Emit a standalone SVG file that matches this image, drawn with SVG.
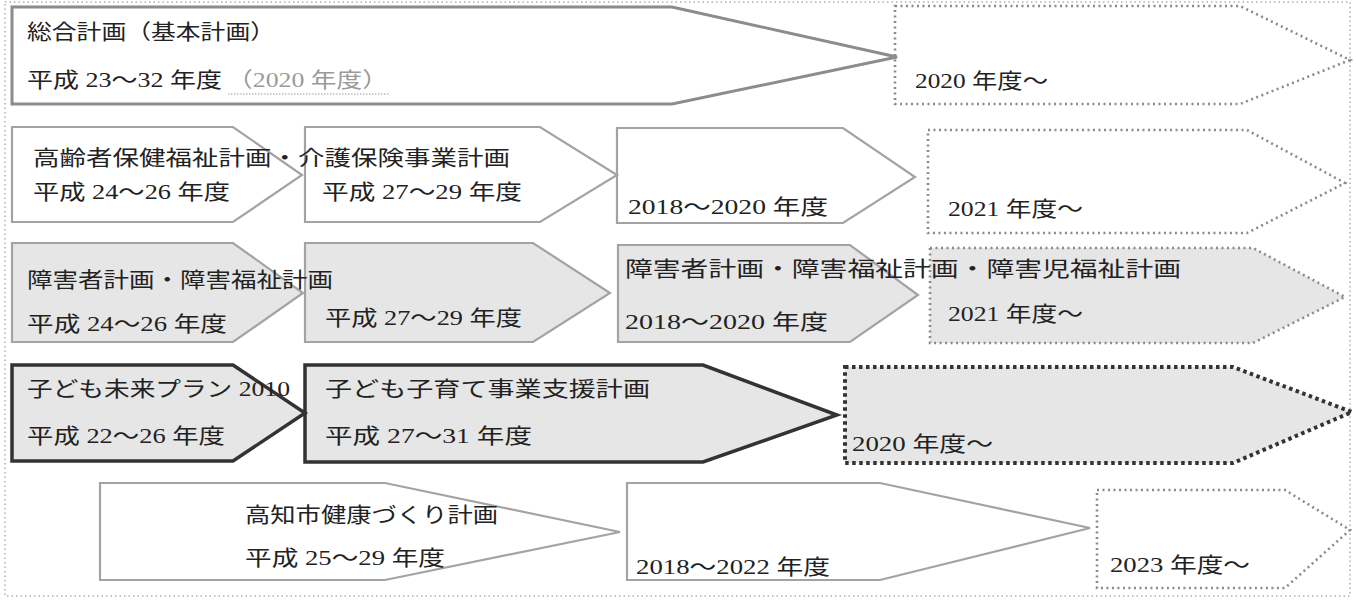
<svg xmlns="http://www.w3.org/2000/svg" width="1356" height="604" viewBox="0 0 1356 604">
<style>
.t{font-family:"Liberation Serif","Noto Sans CJK JP",serif;font-size:21px;fill:#222;}
.lt{fill:#fff;stroke:#a3a3a3;stroke-width:2.2;stroke-linejoin:miter;}
.gy{fill:#e6e6e6;stroke:#a3a3a3;stroke-width:2.2;}
.big{fill:#fff;stroke:#8c8c8c;stroke-width:3;}
.dot{fill:#fff;stroke:#8a8a8a;stroke-width:2.6;stroke-dasharray:2 3.5;}
.dotg{fill:#e6e6e6;stroke:#8a8a8a;stroke-width:2.6;stroke-dasharray:2 3.5;}
.dk{fill:#e6e6e6;stroke:#333;stroke-width:3.5;}
.dkdot{fill:#e6e6e6;stroke:#333;stroke-width:4;stroke-dasharray:3.5 3.5;}
.frame{fill:none;stroke:#b0b0b0;stroke-width:1.5;stroke-dasharray:1.5 3;}
</style>
<rect class="frame" x="5" y="2" width="1345" height="594"/>

<g id="sogo-next">
<polygon class="dot" points="895,6 1240,6 1350,60 1240,104 895,104"/>
<text class="t" x="915" y="88" textLength="133" lengthAdjust="spacingAndGlyphs">2020 年度～</text>
</g>
<g id="sogo">
<polygon class="big" points="12,7 672,7 897,57 672,104 12,104"/>
<text class="t" x="27" y="39" textLength="248" lengthAdjust="spacingAndGlyphs">総合計画（基本計画）</text>
<text class="t" x="27" y="87" textLength="195" lengthAdjust="spacingAndGlyphs">平成 23～32 年度</text>
<text class="t" x="227" y="87" textLength="161" lengthAdjust="spacingAndGlyphs" style="fill:#9a9a9a">（2020 年度）</text>
<line x1="228" y1="94" x2="390" y2="94" stroke="#9a9a9a" stroke-width="1.2" stroke-dasharray="1.5 1.5"/>
</g>

<g id="kourei-4">
<polygon class="dot" points="928,130 1247,130 1345,183 1247,233 928,233"/>
<text class="t" x="948" y="216" textLength="135" lengthAdjust="spacingAndGlyphs">2021 年度～</text>
</g>
<g id="kourei-3">
<polygon class="lt" points="617,128 843,128 915,177 843,223 617,223"/>
<text class="t" x="628" y="214" textLength="200" lengthAdjust="spacingAndGlyphs">2018～2020 年度</text>
</g>
<g id="kourei-2">
<polygon class="lt" points="305,127 540,127 617,175 540,222 305,222"/>
<text class="t" x="322" y="199" textLength="200" lengthAdjust="spacingAndGlyphs">平成 27～29 年度</text>
</g>
<g id="kourei-1">
<polygon class="lt" points="12,127 233,127 302,175 233,222 12,222"/>
<text class="t" x="33" y="165" textLength="477" lengthAdjust="spacingAndGlyphs">高齢者保健福祉計画・介護保険事業計画</text>
<text class="t" x="33" y="199" textLength="197" lengthAdjust="spacingAndGlyphs">平成 24～26 年度</text>
</g>

<g id="shougai-4">
<polygon class="dotg" points="930,248 1253,248 1345,297 1253,343 930,343"/>
<text class="t" x="948" y="321" textLength="135" lengthAdjust="spacingAndGlyphs">2021 年度～</text>
</g>
<g id="shougai-3">
<polygon class="gy" points="618,245 850,245 918,295 850,342 618,342"/>
<text class="t" x="625" y="276" textLength="556" lengthAdjust="spacingAndGlyphs">障害者計画・障害福祉計画・障害児福祉計画</text>
<text class="t" x="625" y="329" textLength="203" lengthAdjust="spacingAndGlyphs">2018～2020 年度</text>
</g>
<g id="shougai-2">
<polygon class="gy" points="305,243 533,243 610,293 533,342 305,342"/>
<text class="t" x="325" y="325" textLength="197" lengthAdjust="spacingAndGlyphs">平成 27～29 年度</text>
</g>
<g id="shougai-1">
<polygon class="gy" points="12,243 233,243 303,293 233,342 12,342"/>
<text class="t" x="27" y="287" textLength="306" lengthAdjust="spacingAndGlyphs">障害者計画・障害福祉計画</text>
<text class="t" x="27" y="331" textLength="200" lengthAdjust="spacingAndGlyphs">平成 24～26 年度</text>
</g>

<g id="kodomo-3">
<polygon class="dkdot" points="845,367 1233,367 1352,412 1233,463 845,463"/>
<text class="t" x="852" y="451" textLength="141" lengthAdjust="spacingAndGlyphs">2020 年度～</text>
</g>
<g id="kodomo-2">
<polygon class="dk" points="305,365 703,365 837,415 703,462 305,462"/>
<text class="t" x="325" y="396" textLength="325" lengthAdjust="spacingAndGlyphs">子ども子育て事業支援計画</text>
<text class="t" x="325" y="443" textLength="207" lengthAdjust="spacingAndGlyphs">平成 27～31 年度</text>
</g>
<g id="kodomo-1">
<polygon class="dk" points="12,365 233,365 305,413 233,461 12,461"/>
<text class="t" x="27" y="396" textLength="263" lengthAdjust="spacingAndGlyphs">子ども未来プラン 2010</text>
<text class="t" x="27" y="443" textLength="198" lengthAdjust="spacingAndGlyphs">平成 22～26 年度</text>
</g>

<g id="kenko-3">
<polygon class="dot" points="1097,490 1285,490 1350,530 1285,588 1097,588"/>
<text class="t" x="1110" y="572" textLength="140" lengthAdjust="spacingAndGlyphs">2023 年度～</text>
</g>
<g id="kenko-2">
<polygon class="lt" points="627,483 880,483 1090,528 880,580 627,580"/>
<text class="t" x="636" y="574" textLength="194" lengthAdjust="spacingAndGlyphs">2018～2022 年度</text>
</g>
<g id="kenko-1">
<polygon class="lt" points="100,483 385,483 620,532 385,580 100,580"/>
<text class="t" x="245" y="522" textLength="253" lengthAdjust="spacingAndGlyphs">高知市健康づくり計画</text>
<text class="t" x="245" y="565" textLength="200" lengthAdjust="spacingAndGlyphs">平成 25～29 年度</text>
</g>
</svg>
